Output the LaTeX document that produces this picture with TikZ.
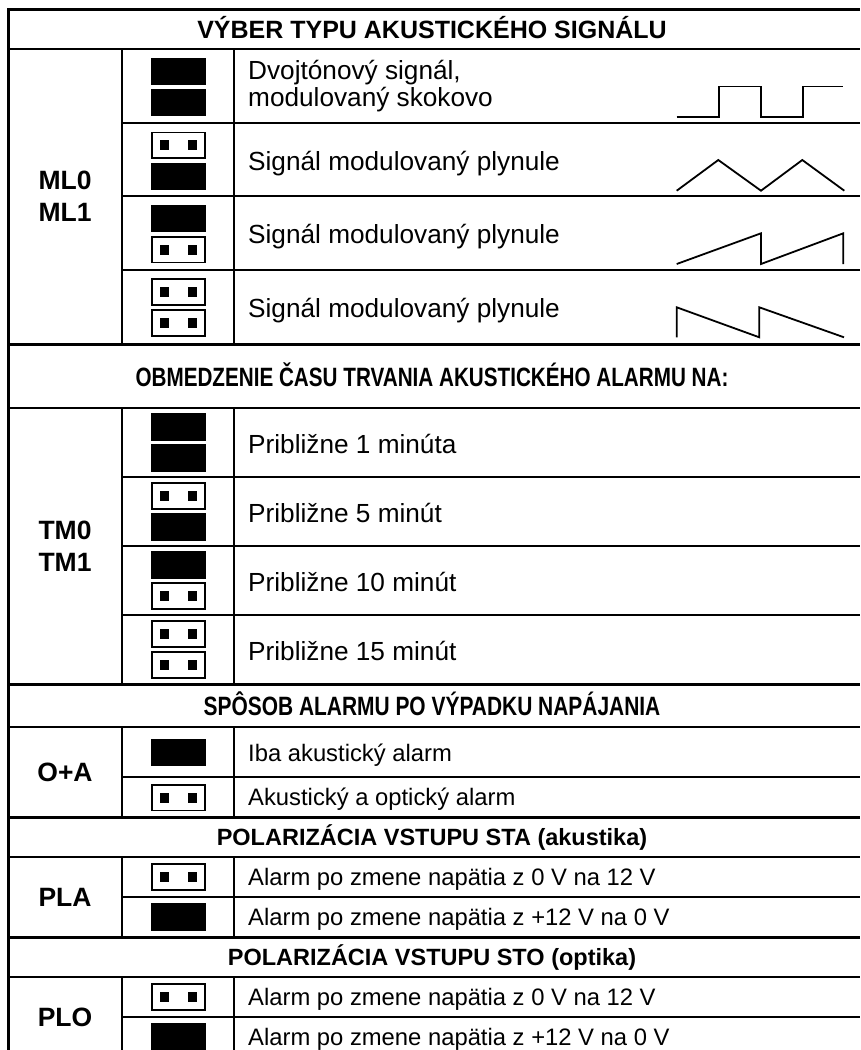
\documentclass[tikz,border=0pt]{standalone}
\usepackage{fontspec}
\usepackage{graphicx}
\setmainfont{Liberation Sans}
\begin{document}
\begin{tikzpicture}[x=1pt,y=-1pt,
  thickln/.style={line width=3pt},
  thinln/.style={line width=2pt},
  wave/.style={line width=1.8pt, line join=miter},
  hdr/.style={font=\fontsize{25}{28}\selectfont\bfseries, anchor=base, inner sep=0pt},
  hdrc/.style={font=\fontsize{26.5}{30}\selectfont\bfseries, anchor=base, inner sep=0pt},
  hdrs/.style={font=\fontsize{23.5}{28}\selectfont\bfseries, anchor=base, inner sep=0pt},
  lbl/.style={font=\fontsize{26.5}{32}\selectfont\bfseries, align=center, inner sep=0pt},
  txt/.style={font=\fontsize{26.2}{27}\selectfont, anchor=base west, inner sep=0pt},
  txts/.style={font=\fontsize{23.8}{27}\selectfont, anchor=base west, inner sep=0pt},
  jclosed/.pic={\fill (-27.3,-13.6) rectangle (27.3,13.6);},
  jopen/.pic={\draw[line width=1.6pt] (-26.5,-12.8) rectangle (26.5,12.8);
              \fill (-19,-5) rectangle (-10,5); \fill (9,-5) rectangle (18,5);}
]
\useasboundingbox (0,0) rectangle (860,1050);
% outer border
\draw[thickln] (8.5,1050) -- (8.5,9.5) -- (860,9.5);
% full-width horizontal lines
\foreach \y in {49,408,727,857,977} \draw[thinln] (7,\y) -- (860,\y);
\foreach \y in {344,684,817,937} \draw[thickln] (7,\y) -- (860,\y);
% row separators
\foreach \y in {123,196,270,477,546,615,777,897,1017} \draw[thinln] (122,\y) -- (860,\y);
% column lines
\foreach \a/\b in {49/344,408/684,727/817,857/937,977/1050}{
  \draw[thinln] (122,\a) -- (122,\b);
  \draw[thinln] (234,\a) -- (234,\b);
}
% headers
\node[hdr] (h1) at (432,38) {VÝBER TYPU AKUSTICKÉHO SIGNÁLU};
\node[hdrc] (h2) at (432,386) {\scalebox{0.78}[1]{OBMEDZENIE ČASU TRVANIA AKUSTICKÉHO ALARMU NA:}};
\node[hdrc] (h3) at (432,715) {\scalebox{0.79}[1]{SPÔSOB ALARMU PO VÝPADKU NAPÁJANIA}};
\node[hdrs] (h4) at (432,845.5) {POLARIZÁCIA VSTUPU STA (akustika)};
\node[hdrs] (h5) at (432,965.5) {POLARIZÁCIA VSTUPU STO (optika)};
% labels
\node[lbl] (ml) at (65,196) {ML0\\ML1};
\node[lbl] (tm) at (65,546) {TM0\\TM1};
\node[lbl] (oa) at (65,772) {O+A};
\node[lbl] (pla) at (65,897) {PLA};
\node[lbl] (plo) at (65,1017) {PLO};
% ML jumpers
\pic at (178.5,71.5) {jclosed}; \pic at (178.5,102.5) {jclosed};
\pic at (178.5,145.3) {jopen};  \pic at (178.5,176.3) {jclosed};
\pic at (178.5,218.5) {jclosed}; \pic at (178.5,249.5) {jopen};
\pic at (178.5,292) {jopen};    \pic at (178.5,323) {jopen};
% TM jumpers
\pic at (178.5,427) {jclosed}; \pic at (178.5,458) {jclosed};
\pic at (178.5,496) {jopen};   \pic at (178.5,527) {jclosed};
\pic at (178.5,565) {jclosed}; \pic at (178.5,596) {jopen};
\pic at (178.5,634) {jopen};   \pic at (178.5,665) {jopen};
% single jumpers
\pic at (178.5,752.5) {jclosed};
\pic at (178.5,797.5) {jopen};
\pic at (178.5,877) {jopen};
\pic at (178.5,917) {jclosed};
\pic at (178.5,997) {jopen};
\pic at (178.5,1037) {jclosed};
% texts
\node[txt] (t1a) at (248,79) {Dvojtónový signál,};
\node[txt] (t1b) at (248,106) {modulovaný skokovo};
\node[txt] (t2) at (248,170) {Signál modulovaný plynule};
\node[txt] (t3) at (248,243.5) {Signál modulovaný plynule};
\node[txt] (t4) at (248,317.5) {Signál modulovaný plynule};
\node[txt] (t5) at (248,453.5) {Približne 1 minúta};
\node[txt] (t6) at (248,522.5) {Približne 5 minút};
\node[txt] (t7) at (248,591.5) {Približne 10 minút};
\node[txt] (t8) at (248,660.5) {Približne 15 minút};
\node[txts] (t9) at (248,761) {Iba akustický alarm};
\node[txts] (t10) at (248,805.5) {Akustický a optický alarm};
\node[txts] (t11) at (248,885.5) {Alarm po zmene napätia z 0 V na 12 V};
\node[txts] (t12) at (248,925.5) {Alarm po zmene napätia z +12 V na 0 V};
\node[txts] (t13) at (248,1005.5) {Alarm po zmene napätia z 0 V na 12 V};
\node[txts] (t14) at (248,1045.5) {Alarm po zmene napätia z +12 V na 0 V};
% waveforms
\draw[wave] (676.7,117.3) -- (718.7,117.3) -- (718.7,86.5) -- (760.7,86.5) -- (760.7,117.3) -- (802.7,117.3) -- (802.7,86.5) -- (842.7,86.5);
\draw[wave] (676.7,190.7) -- (718.3,160) -- (761,190.7) -- (802.3,160) -- (844.3,190.7);
\draw[wave] (676.7,264) -- (761,233.3) -- (761,264) -- (843.3,233.3) -- (843.3,264);
\draw[wave] (676.7,337.3) -- (676.7,307.3) -- (759.3,337.3) -- (759.3,307.3) -- (844,337.3);
\end{tikzpicture}
\end{document}
